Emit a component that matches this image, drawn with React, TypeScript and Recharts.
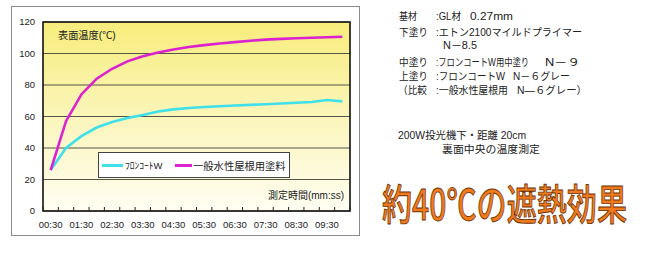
import React, { useLayoutEffect, useRef, useState, useEffect } from "react";
import { LineChart, Line, XAxis, YAxis, CartesianGrid, ReferenceArea, Legend } from "recharts";

// Measurement times (mm:ss), every 30 seconds
const categories = [
  "00:30", "01:00", "01:30", "02:00", "02:30", "03:00", "03:30", "04:00", "04:30", "05:00",
  "05:30", "06:00", "06:30", "07:00", "07:30", "08:00", "08:30", "09:00", "09:30", "10:00",
];
// Surface temperature (°C) — フロンコートW
const fluonCoatW = [26, 40, 47.5, 53, 56.5, 59, 61, 63.2, 64.5, 65.4, 66, 66.5, 67, 67.4, 67.8, 68.3, 68.7, 69.2, 70.5, 69.6];
// Surface temperature (°C) — 一般水性屋根用塗料
const generalPaint = [26, 57, 74, 84, 90.3, 95, 98.2, 100.6, 102.6, 104.1, 105.3, 106.3, 107.2, 108.1, 108.8, 109.3, 109.7, 110, 110.3, 110.6];

const yTicks = [0, 20, 40, 60, 80, 100, 120];
const seriesNames = ["ﾌﾛﾝｺｰﾄW", "一般水性屋根用塗料"];
const seriesColors = ["#3fe0ea", "#dc22d0"];

const data = categories.map((c, i) => ({ idx: i, time: c, a: fluonCoatW[i], b: generalPaint[i] }));
const xTicks: number[] = [];
for (let i = -1; i < categories.length * 2; i++) xTicks.push(i / 2);

const LATIN = "'Liberation Sans', Arial, 'Noto Sans CJK JP', sans-serif";
const CJK = "'Liberation Sans', 'Noto Sans CJK JP', sans-serif";

const XTick = (props: any) => {
  const { x, y, payload } = props;
  const v = payload.value as number;
  if (!Number.isInteger(v)) {
    return <line x1={x} x2={x} y1={y - 4} y2={y} stroke="#222" strokeWidth={1} />;
  }
  if (v % 2 !== 0) return <g />;
  return (
    <text x={x} y={y + 16.5} textAnchor="middle" fontSize={9.5} fill="#222" fontFamily={LATIN}>
      {categories[v]}
    </text>
  );
};

const LegendContent = () => (
  <svg width={192} height={26} style={{ display: "block" }}>
    <rect x={0.5} y={0.5} width={191} height={25} fill="#fff" stroke="#444" strokeWidth={1} />
    <line x1={4} x2={25} y1={13.5} y2={13.5} stroke={seriesColors[0]} strokeWidth={3} />
    <text x={27} y={17} fontSize={9.5} fill="#222" fontFamily={CJK}>{seriesNames[0]}</text>
    <line x1={77} x2={94} y1={13.5} y2={13.5} stroke={seriesColors[1]} strokeWidth={3} />
    <text x={95} y={17.5} fontSize={10.3} fill="#222" fontFamily={CJK}>{seriesNames[1]}</text>
  </svg>
);

// Text fitted to a given width via a horizontal scale transform
const T = ({ x, y, w, children, ...rest }: any) => {
  const ref = useRef<SVGTextElement>(null);
  const [s, setS] = useState(1);
  const measure = () => {
    if (ref.current) {
      const l = ref.current.getComputedTextLength();
      if (l > 0) setS(w / l);
    }
  };
  useLayoutEffect(measure, [w]);
  useEffect(() => {
    const f = (document as any).fonts;
    if (f && f.ready) f.ready.then(measure);
  }, [w]);
  return (
    <text ref={ref} x={0} y={0} transform={`translate(${x},${y}) scale(${s},1)`} {...rest}>
      {children}
    </text>
  );
};

export default function App() {
  return (
    <div style={{ position: "absolute", left: 0, top: 0, width: 659, height: 253, background: "#fff", overflow: "hidden" }}>
      <div style={{ position: "absolute", left: 11, top: 6, width: 347, height: 228, border: "1px solid #8a8a8a", background: "#fff" }} />
      <div style={{ position: "absolute", left: 0, top: 0 }}>
        <LineChart width={360} height={253} data={data} margin={{ top: 22, right: 10, bottom: 12, left: 0 }}>
          <defs>
            <linearGradient id="plotBg" x1="0" y1="0" x2="0" y2="1">
              <stop offset="0%" stopColor="#f7ed7c" />
              <stop offset="55%" stopColor="#fbf6c0" />
              <stop offset="100%" stopColor="#fffef2" />
            </linearGradient>
          </defs>
          <CartesianGrid vertical={false} stroke="#555548" strokeWidth={1} fill="url(#plotBg)" fillOpacity={1} />
          <XAxis
            dataKey="idx"
            type="number"
            domain={[-0.5, categories.length - 0.5]}
            ticks={xTicks}
            interval={0}
            tick={<XTick />}
            tickLine={false}
            tickSize={0}
            tickMargin={0}
            axisLine={false}
            height={30}
            allowDataOverflow
          />
          <YAxis
            type="number"
            domain={[0, 120]}
            ticks={yTicks}
            interval={0}
            width={43}
            tickLine={false}
            axisLine={false}
            tick={{ fontSize: 9.5, fill: "#222", fontFamily: LATIN }}
          />
          <ReferenceArea
            x1={-0.5}
            x2={categories.length - 0.5}
            y1={0}
            y2={120}
            fill="none"
            fillOpacity={0}
            stroke="#111"
            strokeWidth={1.6}
            ifOverflow="visible"
          />
          <Line type="linear" dataKey="a" name={seriesNames[0]} stroke={seriesColors[0]} strokeWidth={2.6} dot={false} isAnimationActive={false} />
          <Line type="linear" dataKey="b" name={seriesNames[1]} stroke={seriesColors[1]} strokeWidth={2.6} dot={false} isAnimationActive={false} />
          <Legend
            layout="horizontal"
            verticalAlign="middle"
            align="center"
            content={<LegendContent />}
            wrapperStyle={{ position: "absolute", left: 98, top: 152, width: 192, height: 26, margin: 0, padding: 0, lineHeight: 0 }}
          />
        </LineChart>
      </div>
      <svg width={659} height={253} style={{ position: "absolute", left: 0, top: 0, pointerEvents: "none" }}>
        <text x={58} y={39} fontSize={10.2} fill="#222" fontFamily={CJK}>表面温度(℃)</text>
        <text x={344} y={199} fontSize={10} fill="#222" fontFamily={CJK} textAnchor="end">測定時間(mm:ss)</text>

        <g fontSize={10.5} fill="#222" fontFamily={CJK}>
          <T x={399} y={20} w={18}>基材</T>
          <T x={436} y={20} w={25}>:GL材</T>
          <T x={470} y={20} w={43}>0.27mm</T>

          <T x={399} y={35.5} w={29}>下塗り</T>
          <T x={436} y={35.5} w={146}>:エトン2100マイルドプライマー</T>
          <T x={443} y={49} w={34}>N－8.5</T>

          <T x={399} y={65.5} w={29}>中塗り</T>
          <T x={436} y={65.5} w={93}>:フロンコートW用中塗り</T>
          <T x={545} y={65.5} w={35}>N－９</T>

          <T x={399} y={80} w={29}>上塗り</T>
          <T x={436} y={80} w={69}>:フロンコートW</T>
          <T x={513} y={80} w={57}>N－６グレー</T>

          <T x={398} y={94} w={29}>（比較</T>
          <T x={436} y={94} w={72}>:一般水性屋根用</T>
          <T x={517} y={94} w={70}>N—６グレー）</T>

          <T x={398} y={139} w={128}>200W投光機下・距離 20cm</T>
          <T x={442} y={153} w={98}>裏面中央の温度測定</T>
        </g>

        <T
          x={382}
          y={219.5}
          w={245}
          fontSize={42}
          fontFamily="'Noto Sans CJK JP', sans-serif"
          fontWeight={500}
          fill="#f07a1c"
          stroke="#6a3208"
          strokeWidth={0.9}
        >
          約40℃の遮熱効果
        </T>
      </svg>
    </div>
  );
}
